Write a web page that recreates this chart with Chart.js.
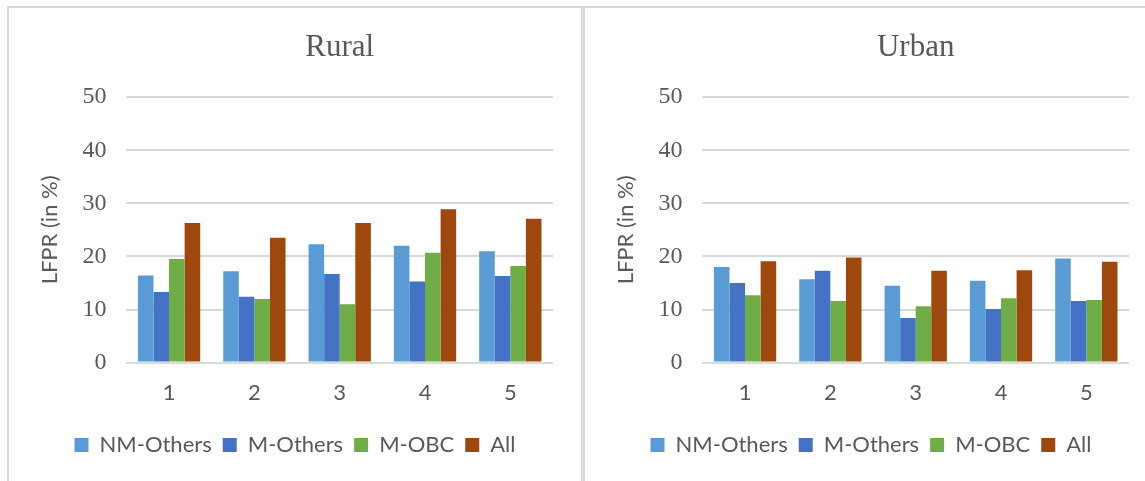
<!DOCTYPE html>
<html>
<head>
<meta charset="utf-8">
<script src="https://cdn.jsdelivr.net/npm/chart.js@4.4.0/dist/chart.umd.min.js"></script>
<style>
  html, body { margin: 0; padding: 0; background: #fff; overflow: hidden; }
  body { width: 1145px; height: 481px; position: relative; }
  .box { position: absolute; top: 6px; height: 480px; border-top: 2px solid #d9d9d9; border-left: 2px solid #d9d9d9; }
  #boxA { left: 7px; width: 572px; border-right: 2px solid #d9d9d9; }
  #boxB { left: 583px; width: 600px; }
  .wrap { position: absolute; top: 0; left: 0; width: 572px; height: 473px; }
</style>
</head>
<body>
<div class="box" id="boxA"><div class="wrap"><canvas id="rural"></canvas></div></div>
<div class="box" id="boxB"><div class="wrap"><canvas id="urban"></canvas></div></div>
<script>
// quintiles on the x axis
const categories = ['1', '2', '3', '4', '5'];
const seriesNames = ['NM-Others', 'M-Others', 'M-OBC', 'All'];
const seriesColors = ['#5b9bd5', '#4472c4', '#70ad47', '#9e480e'];
const yTicks = [0, 10, 20, 30, 40, 50];

// LFPR (in %)
const ruralNmOthers = [16.4, 17.2, 22.3, 22.0, 21.0];
const ruralMOthers = [13.3, 12.4, 16.7, 15.3, 16.3];
const ruralMObc = [19.5, 12.0, 11.0, 20.7, 18.2];
const ruralAll = [26.3, 23.5, 26.3, 28.9, 27.1];

const urbanNmOthers = [18.0, 15.7, 14.5, 15.4, 19.6];
const urbanMOthers = [15.0, 17.3, 8.4, 10.1, 11.6];
const urbanMObc = [12.7, 11.6, 10.6, 12.1, 11.8];
const urbanAll = [19.1, 19.8, 17.3, 17.4, 19.0];

const textColor = '#595959';
const gridColor = '#d9d9d9';
const sans = 'Lato, "Open Sans", sans-serif';
const serif = '"Liberation Serif", "Times New Roman", serif';

function makeChart(id, title, values) {
    const ctx = document.getElementById(id).getContext('2d');
    return new Chart(ctx, {
        type: 'bar',
        data: {
            labels: categories,
            datasets: seriesNames.map((name, i) => ({
                label: name,
                data: values[i],
                backgroundColor: seriesColors[i],
                borderWidth: 0,
                barPercentage: 1,
                categoryPercentage: 0.73
            }))
        },
        options: {
            responsive: true,
            maintainAspectRatio: false,
            animation: false,
            layout: { padding: { left: 28, right: 28, top: 0, bottom: 15 } },
            plugins: {
                title: {
                    display: true,
                    text: title,
                    fullSize: false,
                    color: textColor,
                    font: { family: serif, size: 31, weight: 'normal' },
                    padding: { top: 21, bottom: 31 }
                },
                legend: {
                    position: 'bottom',
                    labels: {
                        color: textColor,
                        font: { family: sans, size: 22 },
                        boxWidth: 14,
                        boxHeight: 14,
                        padding: 11
                    }
                },
                tooltip: { enabled: false }
            },
            scales: {
                x: {
                    grid: { display: false, drawTicks: false },
                    border: { display: false },
                    ticks: {
                        color: textColor,
                        font: { family: sans, size: 22 },
                        padding: 17
                    }
                },
                y: {
                    min: 0,
                    max: 50,
                    afterBuildTicks: (axis) => { axis.ticks = yTicks.map(v => ({ value: v })); },
                    grid: { color: gridColor, lineWidth: 2, drawTicks: false },
                    border: { display: false },
                    ticks: {
                        color: textColor,
                        font: { family: serif, size: 24 },
                        padding: 20
                    },
                    title: {
                        display: true,
                        text: 'LFPR (in %)',
                        color: textColor,
                        font: { family: sans, size: 22 },
                        padding: { top: 0, bottom: -1 }
                    }
                }
            }
        }
    });
}

makeChart('rural', 'Rural', [ruralNmOthers, ruralMOthers, ruralMObc, ruralAll]);
makeChart('urban', 'Urban', [urbanNmOthers, urbanMOthers, urbanMObc, urbanAll]);
</script>
</body>
</html>
